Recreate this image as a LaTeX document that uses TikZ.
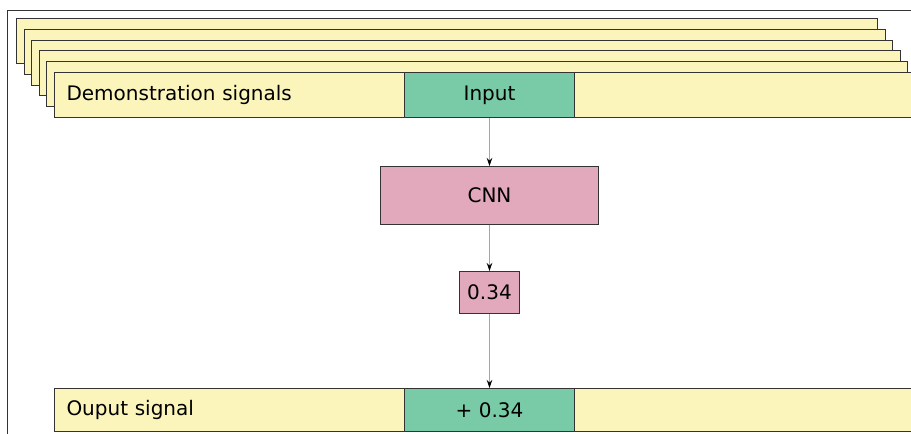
\documentclass[tikz,border=0pt]{standalone}
\usepackage{fontspec}
\setmainfont{DejaVu Sans}
\usepackage{xcolor}
\usetikzlibrary{arrows.meta,positioning}

\definecolor{sigyellow}{HTML}{FBF5BC}
\definecolor{slotgreen}{HTML}{79CBA7}
\definecolor{netpink}{HTML}{E2A8BC}
\definecolor{edgegray}{HTML}{333333}

\begin{document}
\begin{tikzpicture}[x=1pt, y=-1pt, node distance=50pt,
    every node/.style={font=\fontsize{20}{24}\selectfont},
    signal/.style={draw=edgegray, fill=sigyellow, line width=1pt, anchor=north west,
                   inner sep=0pt, minimum width=861pt, minimum height=45pt},
    slot/.style={draw=edgegray, fill=slotgreen, line width=1pt, anchor=north west,
                 inner sep=0pt, minimum width=170pt, minimum height=45pt},
    net/.style={draw=edgegray, fill=netpink, line width=1pt, inner sep=0pt},
    flow/.style={draw=gray!70, line width=0.9pt, -{Stealth[length=8pt,width=5.5pt,black]}}]

    \useasboundingbox (0,0) rectangle (911,434);
    \draw[edgegray, line width=1pt] (911,10) -- (7,10) -- (7,434);

    % stack of demonstration signals
    \foreach \i in {0,...,4}
        \node[signal] (layer\i) at ({16+7.6*\i},{18+10.8*\i}) {};
    \node[signal, text width=837pt, inner xsep=12pt, align=left] (demo) at (54,72) {Demonstration signals};
    \node[slot] (input) at (404,72) {Input};

    \node[net, minimum width=218pt, minimum height=58pt, below=48pt of input] (cnn) {CNN};
    \node[net, minimum width=60pt, minimum height=42pt, below=46pt of cnn] (val) {0.34};

    % output
    \node[signal, minimum height=43pt, text width=837pt, inner xsep=12pt, align=left] (out) at (54,388) {Ouput signal};
    \node[slot, minimum height=43pt] (add) at (404,388) {+ 0.34};

    \path (input) edge[flow] (cnn)
          (cnn)   edge[flow] (val)
          (val)   edge[flow] (add);
\end{tikzpicture}
\end{document}
